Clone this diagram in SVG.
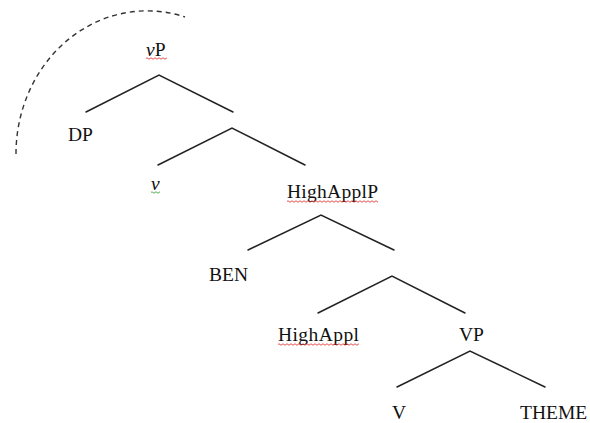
<svg xmlns="http://www.w3.org/2000/svg" width="590" height="423" viewBox="0 0 590 423">
<defs>
<style>
text{font-family:"Liberation Serif","Times New Roman",serif;font-size:19.5px;fill:#111}
.br{stroke:#222;stroke-width:1.5;fill:none;stroke-linecap:round}
.arc{stroke:#333;stroke-width:1.4;fill:none;stroke-dasharray:5 4}
</style>
<pattern id="wr" width="4" height="3" patternUnits="userSpaceOnUse"><path d="M0 1.5 Q1 0 2 1.5 T4 1.5" stroke="#e02020" stroke-width="0.8" fill="none"/></pattern>
<pattern id="wg" width="4" height="3" patternUnits="userSpaceOnUse"><path d="M0 1.5 Q1 0 2 1.5 T4 1.5" stroke="#2a9a2a" stroke-width="0.8" fill="none"/></pattern>
</defs>
<rect width="590" height="423" fill="#fff"/>
<path class="arc" d="M16 154 A131 143 0 0 1 185 17"/>
<g id="connectors">
<path class="br" d="M86 112 L159 75 L233 112"/>
<path class="br" d="M158 165 L232 128 L305 165"/>
<path class="br" d="M248 250 L321 215 L394 250"/>
<path class="br" d="M318 313 L392 276 L465 313"/>
<path class="br" d="M397 387 L470 351 L545 387"/>
</g>
<g id="vP"><text x="146" y="56"><tspan font-style="italic">v</tspan>P</text><g transform="translate(146,57)"><rect width="21" height="3" fill="url(#wr)"/></g></g>
<g id="DP"><text x="68" y="141">DP</text></g>
<g id="v"><text x="151" y="190" font-style="italic" font-size="15">v</text><g transform="translate(151,191)"><rect width="9" height="3" fill="url(#wg)"/></g></g>
<g id="HighApplP"><text x="287" y="198" textLength="91">HighApplP</text><g transform="translate(287,200)"><rect width="91" height="3" fill="url(#wr)"/></g></g>
<g id="BEN"><text x="209" y="281">BEN</text></g>
<g id="HighAppl"><text x="278" y="341" textLength="81">HighAppl</text><g transform="translate(278,343)"><rect width="81" height="3" fill="url(#wr)"/></g></g>
<g id="VP"><text x="459" y="341">VP</text></g>
<g id="V"><text x="392" y="419">V</text></g>
<g id="THEME"><text x="520" y="419">THEME</text></g>
</svg>
